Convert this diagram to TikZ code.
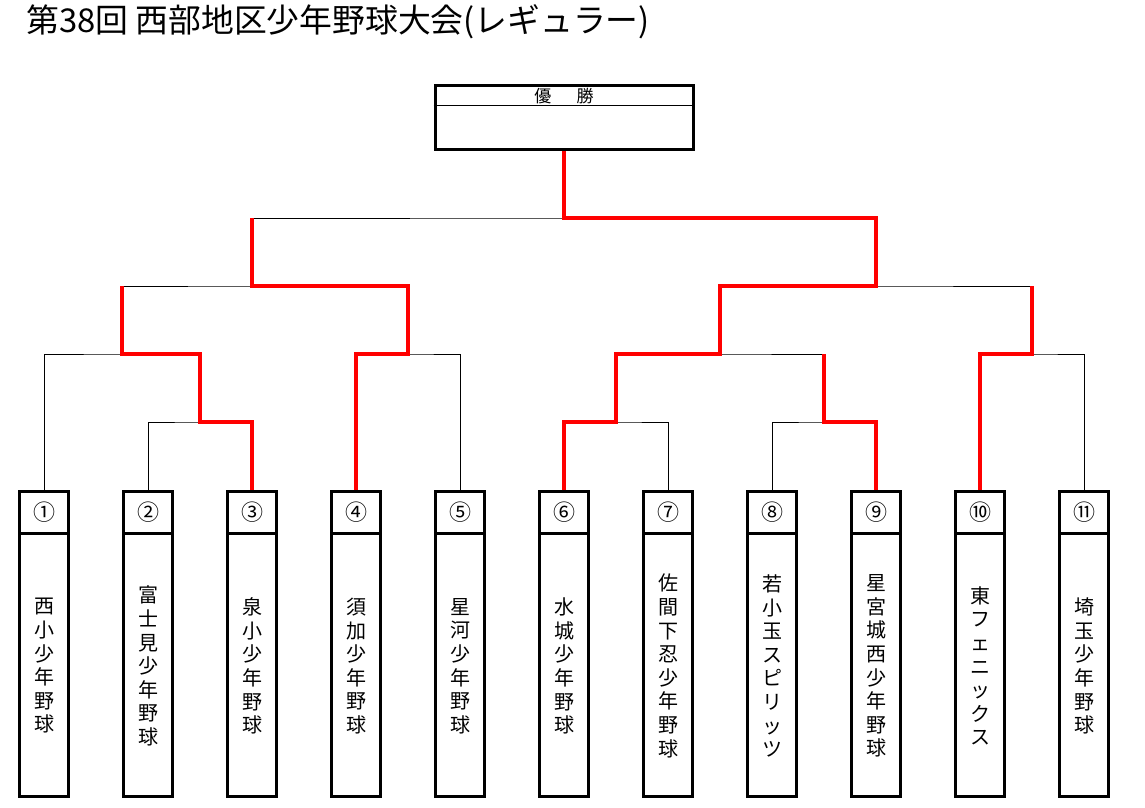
\documentclass[tikz,border=0pt]{standalone}
\usepackage{fontspec}
\setmainfont{Noto Sans CJK JP}
\usepackage{tikz}
\tikzstyle{team}=[draw, line width=2.25pt, minimum width=36.75pt, minimum height=228.75pt, inner sep=0pt]
\tikzstyle{tname}=[align=center, inner sep=0pt, font=\fontsize{15}{17.7}\selectfont]
\tikzstyle{lose}=[line width=0.75pt, color=black]
\tikzstyle{win}=[line width=2.4pt, color=red]

\begin{document}
\begin{tikzpicture}[x=0.75pt, y=-0.75pt]
	\useasboundingbox (0,0) rectangle (1145,807);
	% title
	\node[anchor=west, inner sep=0pt, font=\fontsize{24.6}{28}\selectfont] (title) at (26,22) {第38回 西部地区少年野球大会(レギュラー)};
	% champion box
	\node[draw, line width=2.25pt, minimum width=193.5pt, minimum height=48.3pt, inner sep=0pt] (champ) at (564,117.5) {};
	\draw[lose] (champ.north west) ++(0,21.4) -- ++(258,0);
	\node[inner sep=0pt, font=\fontsize{12.75}{14}\selectfont] (yusho) at (564,96.5) {優\hspace{19pt}勝};
	% team boxes, using a loop
	\foreach \i/\num/\name in {1/①/西\\小\\少\\年\\野\\球, 2/②/富\\士\\見\\少\\年\\野\\球, 3/③/泉\\小\\少\\年\\野\\球, 4/④/須\\加\\少\\年\\野\\球, 5/⑤/星\\河\\少\\年\\野\\球, 6/⑥/水\\城\\少\\年\\野\\球, 7/⑦/佐\\間\\下\\忍\\少\\年\\野\\球, 8/⑧/若\\小\\玉\\ス\\ピ\\リ\\ッ\\ツ, 9/⑨/星\\宮\\城\\西\\少\\年\\野\\球, 10/⑩/東\\フ\\ェ\\ニ\\ッ\\ク\\ス, 11/⑪/埼\\玉\\少\\年\\野\\球}{
		\node[team] (t\i) at ({44+104*(\i-1)},644) {};
		\draw[line width=2.25pt] (t\i.north west) ++(0,43) -- ++(49,0);
		\node[inner sep=0pt, font=\fontsize{16.5}{18}\selectfont] (n\i) at ({44+104*(\i-1)},512.5) {\num};
		\node[tname] (s\i) at ({44+104*(\i-1)},666) {\name};
	}
	% match points
	\coordinate (m23) at (200,422);
	\coordinate (m1) at (122,354);
	\coordinate (m45) at (408,354);
	\coordinate (sfL) at (252,286);
	\coordinate (m67) at (616,422);
	\coordinate (m89) at (824,422);
	\coordinate (qf) at (720,354);
	\coordinate (m1011) at (1032,354);
	\coordinate (sfR) at (876,286);
	\coordinate (final) at (564,218);
	% bracket lines
	\foreach \a/\m/\b in {t2.north/m23/t3.north, t1.north/m1/m23, t4.north/m45/t5.north, m1/sfL/m45, t6.north/m67/t7.north, t8.north/m89/t9.north, m67/qf/m89, t10.north/m1011/t11.north, qf/sfR/m1011, sfL/final/sfR}{
		\draw[lose] (\a) |- (\m) -| (\b);
	}
	% winners in red
	\draw[win] (t3.north) |- (m23) |- (m1) -- (m1 |- sfL);
	\draw[win] (t4.north) |- (m45) |- (sfL) -- (sfL |- final);
	\draw[win] (t6.north) |- (m67) |- (qf) |- (sfR) |- (final) -- (champ.south);
	\draw[win] (t9.north) |- (m89) -- (m89 |- qf);
	\draw[win] (t10.north) |- (m1011) -- (m1011 |- sfR);
\end{tikzpicture}
\end{document}
